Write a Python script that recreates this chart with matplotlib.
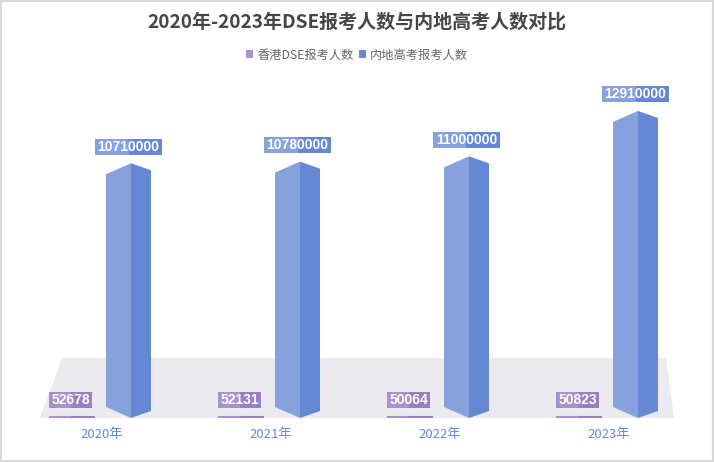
import matplotlib.pyplot as plt
from matplotlib.patches import Polygon, Rectangle, Patch
from matplotlib.transforms import IdentityTransform

plt.rcParams['font.family'] = ['Noto Sans CJK SC', 'DejaVu Sans']

years = ['2020年', '2021年', '2022年', '2023年']
dse = [52678, 52131, 50064, 50823]
gaokao = [10710000, 10780000, 11000000, 12910000]

W, H = 714, 462
YMAX = 14e6
AX_W, AX_H = 676, 333

fig = plt.figure(figsize=(W / 100, H / 100), dpi=100)
ax = fig.add_axes([17 / W, 44 / H, AX_W / W, AX_H / H])
ax.set_xlim(-0.5, 3.5)
ax.set_ylim(0, YMAX)
ax.patch.set_alpha(0)
for s in ax.spines.values():
    s.set_visible(False)
ax.set_yticks([])
ax.set_xticks(range(len(years)))
ax.set_xticklabels(years, fontsize=9.5, color='#6489d9')
ax.tick_params(axis='x', length=0, pad=7)


def px(dx, dy):
    # pixel offsets -> data units
    return dx * 4 / AX_W, dy * YMAX / AX_H


# floor
floor = [(40, 418), (62, 358), (666, 358), (674, 418)]
ax.add_patch(Polygon([(x / W, 1 - y / H) for x, y in floor], closed=True,
                     transform=fig.transFigure, facecolor='#ebeaef',
                     edgecolor='none', zorder=0, clip_on=False))

blue_l, blue_r = '#87a1dc', '#6688d4'
purp_l, purp_r = '#a992cc', '#9a7fc3'

off_p = px(-30, 0)[0]
off_b = px(29.5, 0)[0]

labels = []
for i, (d, g) in enumerate(zip(dse, gaokao)):
    # DSE bar (very thin)
    cx = i + off_p
    hw = px(22, 0)[0]
    ax.add_patch(Rectangle((cx - hw, 0), hw, d, facecolor=purp_l,
                           edgecolor=purp_l, lw=1.5, zorder=2))
    ax.add_patch(Rectangle((cx, 0), hw, d, facecolor=purp_r,
                           edgecolor=purp_r, lw=1.5, zorder=2))
    t = ax.text(cx - px(1, 0)[0], d + px(0, 17)[1], f'{d}', ha='center', va='center',
                color='white', fontsize=10, fontweight='bold',
                family=['Liberation Sans'], zorder=6)
    labels.append((t, purp_l, purp_r, 16))

    # gaokao prism bar
    cx = i + off_b
    lw_, rw_ = px(25, 0)[0], px(20, 0)[0]
    ly, ry = px(0, 11)[1], px(0, 7)[1]
    left = [(cx - lw_, ly), (cx, 0), (cx, g), (cx - lw_, g - ly)]
    right = [(cx, 0), (cx + rw_, ry), (cx + rw_, g - ry), (cx, g)]
    ax.add_patch(Polygon(left, closed=True, facecolor=blue_l, edgecolor='none', zorder=3))
    ax.add_patch(Polygon(right, closed=True, facecolor=blue_r, edgecolor='none', zorder=3))
    t = ax.text(cx - px(2.5, 0)[0], g + px(0, 16.5)[1], f'{g}', ha='center', va='center',
                color='white', fontsize=10, fontweight='bold',
                family=['Liberation Sans'], zorder=6)
    labels.append((t, blue_l, blue_r, 16))

# two-tone label boxes
fig.canvas.draw()
for t, cl, cr, bh in labels:
    bb = t.get_window_extent()
    bw = bb.width + 5
    xc = (bb.x0 + bb.x1) / 2
    yc = (bb.y0 + bb.y1) / 2
    ax.add_patch(Rectangle((xc - bw / 2, yc - bh / 2), bw / 2, bh, facecolor=cl,
                           edgecolor='none', transform=IdentityTransform(), zorder=5))
    ax.add_patch(Rectangle((xc, yc - bh / 2), bw / 2, bh, facecolor=cr,
                           edgecolor='none', transform=IdentityTransform(), zorder=5))

fig.text(0.5, 1 - 22 / H, '2020年-2023年DSE报考人数与内地高考人数对比', ha='center',
         va='center', fontsize=13.7, fontweight='bold', color='#464646')

handles = [Patch(facecolor=purp_l, label='香港DSE报考人数'),
           Patch(facecolor=blue_r, label='内地高考报考人数')]
fig.legend(handles=handles, loc='center', bbox_to_anchor=(0.5, 1 - 55 / H), ncol=2,
           frameon=False, fontsize=8.8, handlelength=0.6, handleheight=0.6,
           handletextpad=0.35, columnspacing=0.4, labelcolor='#666666')

fig.patches.append(Rectangle((0, 0), 1, 1, transform=fig.transFigure, fill=False,
                             edgecolor='#d9d9d9', lw=3, zorder=10))

fig.savefig('out.png', dpi=100)
